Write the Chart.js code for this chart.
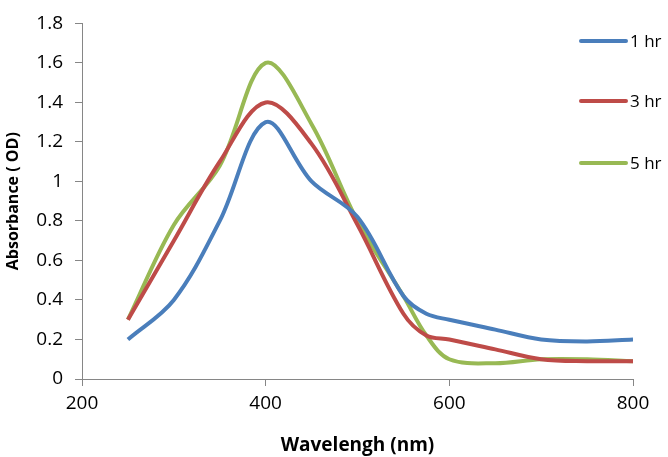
<!DOCTYPE html>
<html>
<head>
<meta charset="utf-8">
<script src="https://cdn.jsdelivr.net/npm/chart.js@4/dist/chart.umd.min.js"></script>
<style>
  html, body { margin: 0; padding: 0; background: #fff; overflow: hidden; }
  #wrap { width: 668px; height: 457px; }
</style>
</head>
<body>
<div id="wrap"><canvas id="chart" width="668" height="457"></canvas></div>
<script>
const wavelengths = [250, 300, 350, 400, 450, 500, 550, 575, 600, 650, 700, 750, 800];
const hr1 = [0.2, 0.4, 0.8, 1.3, 1.0, 0.82, 0.42, 0.33, 0.3, 0.25, 0.2, 0.19, 0.2];
const hr3 = [0.3, 0.7, 1.1, 1.4, 1.19, 0.78, 0.33, 0.22, 0.2, 0.15, 0.1, 0.09, 0.09];
const hr5 = [0.3, 0.78, 1.08, 1.6, 1.29, 0.8, 0.42, 0.22, 0.1, 0.08, 0.1, 0.1, 0.09];
const seriesNames = ["1 hr", "3 hr", "5 hr"];
const seriesColors = ["#4a7ebb", "#be4b48", "#98b954"];
const xTicks = [200, 400, 600, 800];
const yTicks = [0, 0.2, 0.4, 0.6, 0.8, 1, 1.2, 1.4, 1.6, 1.8];

const FONT = "'Open Sans', sans-serif";
const axisGray = "#868686";

function toPoints(ys) {
  return wavelengths.map((w, i) => ({ x: w, y: ys[i] }));
}

// legend drawn over the plot, top right, like the original
const sideLegend = {
  id: "sideLegend",
  afterDraw(chart) {
    const ctx = chart.ctx;
    const rows = [41, 101, 163];
    ctx.save();
    chart.data.datasets.forEach((ds, i) => {
      ctx.strokeStyle = ds.borderColor;
      ctx.lineWidth = 4;
      ctx.lineCap = "round";
      ctx.beginPath();
      ctx.moveTo(581, rows[i]);
      ctx.lineTo(626, rows[i]);
      ctx.stroke();
      ctx.fillStyle = "#000";
      ctx.font = "17px " + FONT;
      ctx.textBaseline = "middle";
      ctx.fillText(ds.label, 630, rows[i] + 1);
    });
    ctx.restore();
  }
};

const datasets = [hr1, hr3, hr5].map((ys, i) => ({
  label: seriesNames[i],
  data: toPoints(ys),
  borderColor: seriesColors[i],
  backgroundColor: seriesColors[i],
  borderWidth: 4,
  pointRadius: 0,
  tension: 0.35,
  fill: false
}));

new Chart(document.getElementById("chart").getContext("2d"), {
  type: "line",
  data: { datasets: datasets },
  plugins: [sideLegend],
  options: {
    responsive: false,
    animation: false,
    layout: { padding: { top: 11, right: 35, left: 0, bottom: 0 } },
    plugins: {
      legend: { display: false },
      tooltip: { enabled: false }
    },
    scales: {
      x: {
        type: "linear",
        min: 200,
        max: 800,
        afterBuildTicks: s => { s.ticks = xTicks.map(v => ({ value: v })); },
        afterFit: s => { s.height = 78; },
        border: { display: true, color: axisGray, width: 1 },
        grid: { drawOnChartArea: false, drawTicks: true, tickLength: 7, color: axisGray },
        ticks: { color: "#000", font: { family: FONT, size: 19 }, padding: 6, maxRotation: 0 },
        title: {
          display: true,
          text: "Wavelengh (nm)",
          color: "#000",
          font: { family: FONT, size: 19, weight: "bold" },
          padding: { top: 0, bottom: 0 }
        }
      },
      y: {
        min: 0,
        max: 1.8,
        afterBuildTicks: s => { s.ticks = yTicks.map(v => ({ value: v })); },
        afterFit: s => { s.width = 82; },
        border: { display: true, color: axisGray, width: 1 },
        grid: { drawOnChartArea: false, drawTicks: true, tickLength: 7, color: axisGray },
        ticks: {
          color: "#000",
          font: { family: FONT, size: 19 },
          padding: 12,
          callback: v => String(Math.round(v * 10) / 10)
        },
        title: {
          display: true,
          text: "Absorbance ( OD)",
          color: "#000",
          font: { family: FONT, size: 16, weight: "bold" },
          padding: { top: 4, bottom: 0 }
        }
      }
    }
  }
});
</script>
</body>
</html>
